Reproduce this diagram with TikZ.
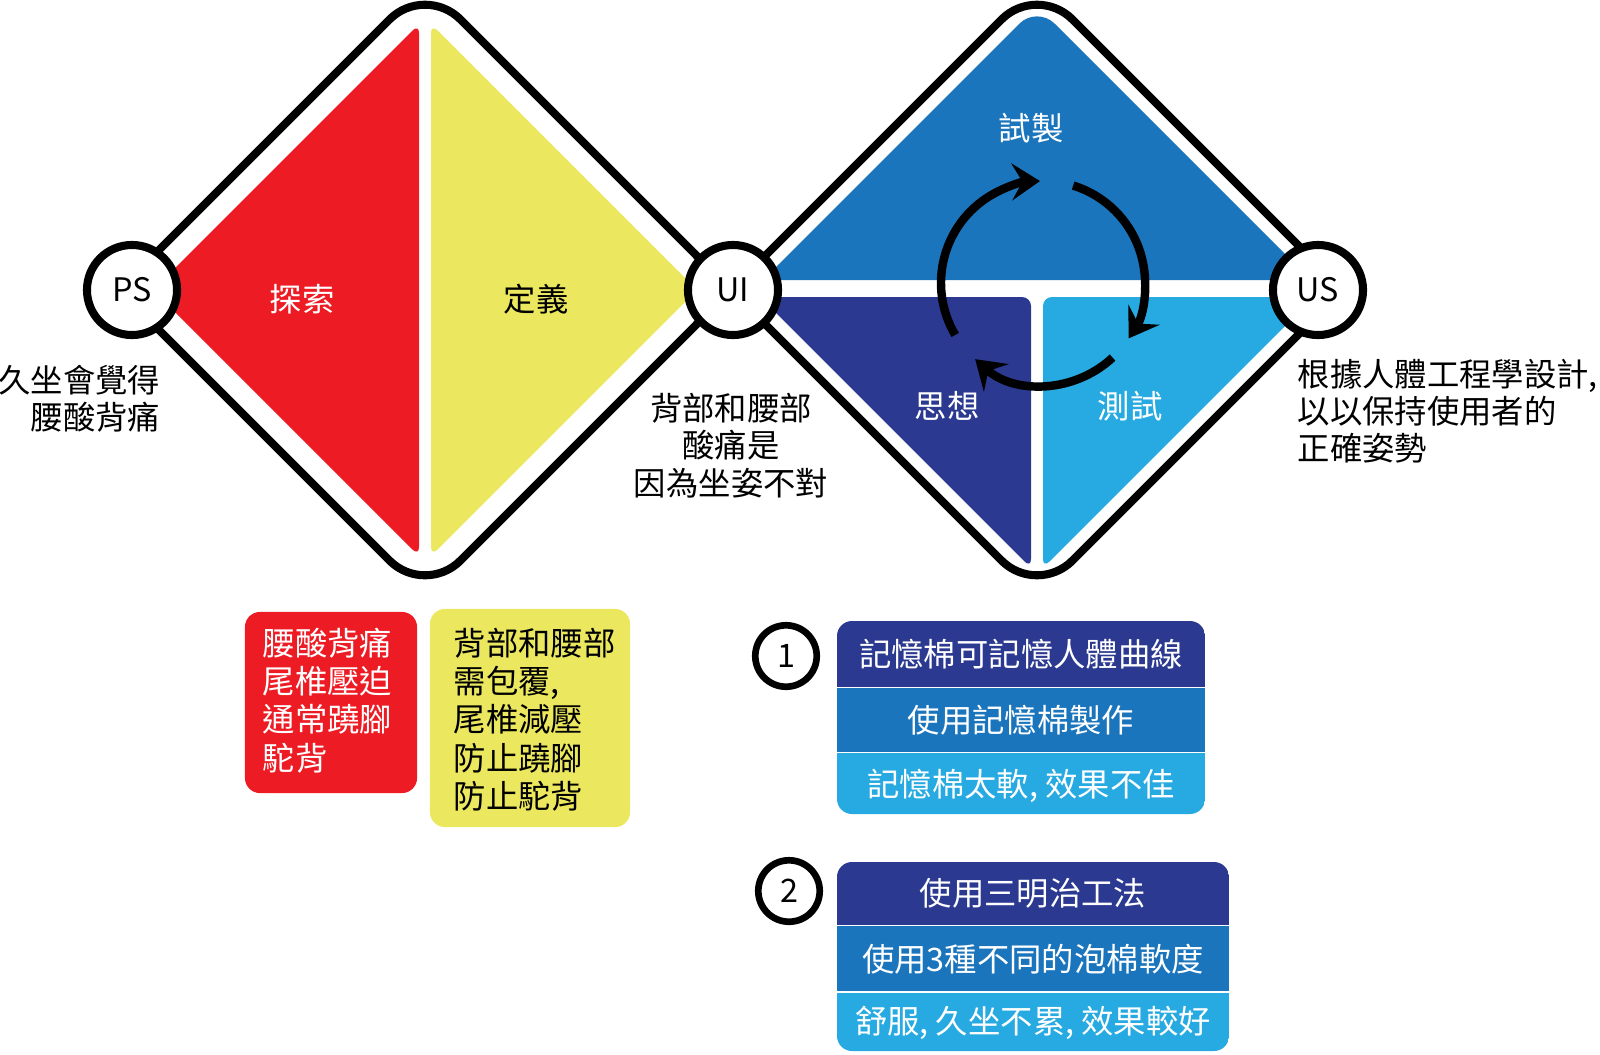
\documentclass[tikz,border=0pt]{standalone}
\usepackage{fontspec}
\setmainfont{Noto Sans CJK TC}
\usetikzlibrary{arrows.meta,positioning}
\definecolor{dzred}{HTML}{ED1C24}
\definecolor{dzyel}{HTML}{EBE85F}
\definecolor{dzblue}{HTML}{1B75BC}
\definecolor{dznavy}{HTML}{2B3990}
\definecolor{dzsky}{HTML}{27AAE1}
\newcommand{\lbl}{\fontsize{9.2pt}{10.6pt}\selectfont}
\newcommand{\boxt}{\fontsize{9.2pt}{10.9pt}\selectfont}
\tikzset{
  rim/.style={draw=black,line width=2.3pt,rounded corners=0.5cm},
  wedge/.style={rounded corners=0.09cm},
  hub/.style={circle,draw=black,line width=2.3pt,fill=white,minimum size=0.9cm,inner sep=0pt,font=\lbl},
  num/.style={circle,draw=black,line width=1.9pt,fill=white,minimum size=0.614cm,inner sep=0pt,font=\lbl},
  txt/.style={inner sep=0pt,font=\lbl},
  note/.style={rounded corners=0.15cm,inner sep=0pt},
  band/.style={inner sep=0pt,minimum width=#1,text=white,font=\boxt},
  cyc/.style={line width=2.4pt,-{Stealth[length=8pt,width=10.5pt,inset=3pt]}},
}

\begin{document}
\begin{tikzpicture}[x=0.01cm,y=0.01cm]
\useasboundingbox (0,0) rectangle (1600,-1054);
% first diamond
\fill[dzred,wedge] (153,-290) -- (419,-24) -- (419,-556) -- cycle;
\fill[dzyel,wedge] (431,-24) -- (697,-290) -- (431,-556) -- cycle;
\draw[rim] (119,-290) -- (425,16) -- (731,-290) -- (425,-596) -- cycle;
% second diamond
\fill[dzblue] (763,-280) [rounded corners=0.09cm] -- (900,-143) [rounded corners=0.25cm] -- (1037,-6)
  -- (1174,-143) [rounded corners=0.09cm] -- (1311,-280) -- cycle;
\fill[dznavy,wedge] (760,-297) -- (1031,-297) -- (1031,-568) -- cycle;
\fill[dzsky,wedge] (1043,-297) -- (1314,-297) -- (1043,-568) -- cycle;
\draw[rim] (731,-290) -- (1037,16) -- (1343,-290) -- (1037,-596) -- cycle;

\node[hub] (ps) at (132,-290) {PS};
\node[hub] (ui) at (733,-290) {UI};
\node[hub] (us) at (1318,-290) {US};

\node[txt,text=white] (explore) at (302,-299) {探索};
\node[txt] (define) at (536,-299) {定義};
\node[txt,text=white] (proto) at (1031,-128) {試製};
\node[txt,text=white] (ideate) at (947,-406) {思想};
\node[txt,text=white] (test) at (1130,-406) {測試};

% loop of arrows
\coordinate (loop) at (1043,-283);
\draw[cyc] ([shift={(210.6:102)}]loop) arc[start angle=210.6,end angle=91.7,radius=102];
\draw[cyc] ([shift={(72.8:102)}]loop) arc[start angle=72.8,end angle=-32.9,radius=102];
\draw[cyc] ([shift={(-47:102)}]loop) arc[start angle=-47,end angle=-131.7,radius=102];

\node[txt,align=right,anchor=east] (psnote) at (161,-398.5) {久坐會覺得\\腰酸背痛};
\node[txt,align=center] (uinote) at (731,-445.5) {背部和腰部\\酸痛是\\因為坐姿不對};
\node[txt,align=left,anchor=west] (usnote) at (1297,-411) {根據人體工程學設計,\\以以保持使用者的\\正確姿勢};

\node[note,fill=dzred,minimum width=1.72cm,minimum height=1.81cm] (probbox) at (331,-702.5) {};
\node[txt,text=white,align=left,anchor=west,font=\boxt] (probtxt) at (262,-700.5) {腰酸背痛\\尾椎壓迫\\通常蹺腳\\駝背};
\node[note,fill=dzyel,minimum width=2cm,minimum height=2.18cm] (needbox) at (530,-718) {};
\node[txt,align=left,anchor=west,font=\boxt] (needtxt) at (453,-719.5) {背部和腰部\\需包覆,\\尾椎減壓\\防止蹺腳\\防止駝背};

\node[num] (n1) at (786,-656) {1};
\begin{scope}
  \clip[rounded corners=0.15cm] (837,-621) rectangle (1205,-814);
  \node[band=3.68cm,minimum height=0.66cm,fill=dznavy] (t1) at (1021,-654) {記憶棉可記憶人體曲線};
  \node[band=3.68cm,minimum height=0.635cm,fill=dzblue,below=0pt of t1] (t2) {使用記憶棉製作};
  \node[band=3.68cm,minimum height=0.64cm,fill=dzsky,below=0pt of t2] (t3) {記憶棉太軟, 效果不佳};
\end{scope}

\node[num] (n2) at (789,-891) {2};
\begin{scope}
  \clip[rounded corners=0.15cm] (837,-862) rectangle (1229,-1051);
  \node[band=3.92cm,minimum height=0.63cm,fill=dznavy] (s1) at (1033,-893.5) {使用三明治工法};
  \node[band=3.92cm,minimum height=0.65cm,fill=dzblue,below=0pt of s1] (s2) {使用3種不同的泡棉軟度};
  \node[band=3.92cm,minimum height=0.61cm,fill=dzsky,below=0pt of s2] (s3) {舒服, 久坐不累, 效果較好};
\end{scope}
\end{tikzpicture}
\end{document}
